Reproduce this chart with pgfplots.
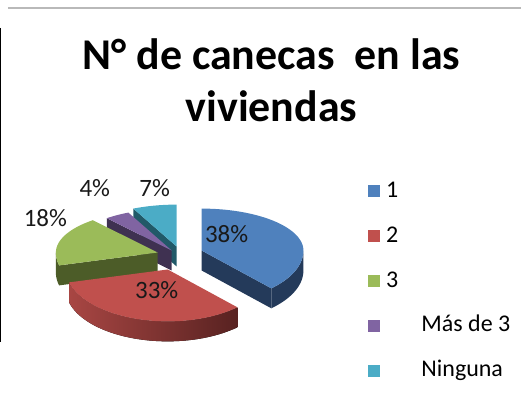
\documentclass[border=0pt]{standalone}
\usepackage{pgfplots}
\pgfplotsset{compat=1.18}
\usepackage{pgfplotstable}
\usepgfplotslibrary{fillbetween}
\usepackage{fontspec}
\setmainfont{Carlito}

\definecolor{bluetop}{RGB}{79,129,189}
\definecolor{blueside}{RGB}{36,58,90}
\definecolor{redtop}{RGB}{192,80,77}
\definecolor{redL}{RGB}{168,70,67}
\definecolor{redR}{RGB}{88,34,33}
\definecolor{greentop}{RGB}{155,187,89}
\definecolor{greenside}{RGB}{76,92,40}
\definecolor{purpletop}{RGB}{128,100,162}
\definecolor{purpleside}{RGB}{63,49,81}
\definecolor{cyantop}{RGB}{75,172,198}
\definecolor{cyanside}{RGB}{33,89,104}

\pgfplotstableread{
cat value
1 38
2 33
3 18
4 4
5 7
}\piedata

\def\Rx{102}\def\Rb{42}\def\Rf{52}\def\D{20}
\newcommand\rim[5]{%
  \pgfmathsetmacro#4{#1+\Rx*cos(#3)}%
  \pgfmathsetmacro#5{#2-(\Rb+(\Rf-\Rb)*(sin(#3)<0))*sin(#3)}}
\newcommand\lab{\fontsize{18.75}{22}\selectfont}

\begin{document}
\begin{tikzpicture}
\pgfplotstablegetelem{0}{value}\of\piedata\let\vA\pgfplotsretval
\pgfplotstablegetelem{1}{value}\of\piedata\let\vB\pgfplotsretval
\pgfplotstablegetelem{2}{value}\of\piedata\let\vC\pgfplotsretval
\pgfplotstablegetelem{3}{value}\of\piedata\let\vD\pgfplotsretval
\pgfplotstablegetelem{4}{value}\of\piedata\let\vE\pgfplotsretval
\pgfmathsetmacro\aA{90}
\pgfmathsetmacro\aB{\aA-3.6*\vA}
\pgfmathsetmacro\aC{\aB-3.6*\vB}
\pgfmathsetmacro\aD{\aC-3.6*\vC}
\pgfmathsetmacro\aE{\aD-3.6*\vD}
\pgfmathsetmacro\aF{\aE-3.6*\vE}
\rim{177}{247}{\aE}{\cx}{\cy}\pgfmathsetmacro\cyb{\cy+\D}
\rim{172}{251}{\aD}{\px}{\py}\pgfmathsetmacro\pyb{\py+\D}
\rim{158}{253}{\aC}{\gx}{\gy}\pgfmathsetmacro\gyb{\gy+\D}
\rim{202}{251}{\aB}{\bx}{\by}\pgfmathsetmacro\byb{\by+\D}
\begin{axis}[
  scale only axis, width=391.5pt, height=307.5pt,
  xmin=0, xmax=522, ymin=0, ymax=410, y dir=reverse,
  hide axis, clip=false,
  every axis plot/.append style={mark=none},
  fill between/on layer=main,
  reverse legend,
  legend cell align=left,
  legend image code/.code={\fill[#1] (0pt,-4.5pt) rectangle (9pt,4.5pt);},
  legend style={draw=none, fill=none, at={(axis cs:368,180)}, anchor=north west,
    font=\fontsize{18}{21.6}\selectfont, inner sep=0pt, row sep=16.75pt, column sep=5pt,
    nodes={inner sep=0pt, text height=13pt, text depth=4pt}},
]
\path (axis cs:0,0) rectangle (axis cs:522,410);
\draw[gray!55, line width=1.5pt] (axis cs:8,8) -- (axis cs:522,8);
\draw[black, line width=0.75pt] (axis cs:1,28) -- (axis cs:1,343);

% cyan (Ninguna)
\addplot[fill=cyanside, draw=none, forget plot] coordinates {(177,247) (\cx,\cy) (\cx,\cyb) (177,267)};
\addplot[fill=cyantop, draw=none, domain=\aF:\aE, samples=40]
  ({177+\Rx*cos(x)},{247-(\Rb+(\Rf-\Rb)*(sin(x)<0))*sin(x)}) -- (axis cs:177,247);
\addlegendentry{\hspace{26.5pt}Ninguna}
% purple (Mas de 3)
\addplot[fill=purpleside, draw=none, forget plot] coordinates {(172,251) (\px,\py) (\px,\pyb) (172,271)};
\addplot[fill=purpletop, draw=none, domain=\aE:\aD, samples=30]
  ({172+\Rx*cos(x)},{251-(\Rb+(\Rf-\Rb)*(sin(x)<0))*sin(x)}) -- (axis cs:172,251);
\addlegendentry{\hspace{26.5pt}Más de 3}
% green (3)
\addplot[fill=greenside, draw=none, forget plot] coordinates {(158,253) (\gx,\gy) (\gx,\gyb) (158,273)};
\addplot[draw=none, forget plot, name path=gt, domain=-180:\aC, samples=20]
  ({158+\Rx*cos(x)},{253-\Rf*sin(x)});
\addplot[draw=none, forget plot, name path=gb, domain=-180:\aC, samples=20]
  ({158+\Rx*cos(x)},{273-\Rf*sin(x)});
\addplot[fill=greenside, draw=none, forget plot] fill between[of=gt and gb];
\addplot[fill=greentop, draw=none, domain=\aD:\aC, samples=60]
  ({158+\Rx*cos(x)},{253-(\Rb+(\Rf-\Rb)*(sin(x)<0))*sin(x)}) -- (axis cs:158,253);
\addlegendentry{3}
% red (2)
\addplot[draw=none, forget plot, name path=rt, domain=\aC:\aB, samples=80]
  ({168+\Rx*cos(x)},{270-\Rf*sin(x)});
\addplot[draw=none, forget plot, name path=rb, domain=\aC:\aB, samples=80]
  ({168+\Rx*cos(x)},{290-\Rf*sin(x)});
\addplot[left color=redL, right color=redR, draw=none, forget plot] fill between[of=rt and rb];
\addplot[fill=redtop, draw=none, domain=\aC:\aB, samples=80]
  ({168+\Rx*cos(x)},{270-\Rf*sin(x)}) -- (axis cs:168,270);
\addlegendentry{2}
% blue (1)
\addplot[fill=blueside, draw=none, forget plot] coordinates {(202,251) (\bx,\by) (\bx,\byb) (202,271)};
\addplot[draw=none, forget plot, name path=bt, domain=\aB:0, samples=30]
  ({202+\Rx*cos(x)},{251-\Rf*sin(x)});
\addplot[draw=none, forget plot, name path=bb, domain=\aB:0, samples=30]
  ({202+\Rx*cos(x)},{271-\Rf*sin(x)});
\addplot[fill=blueside, draw=none, forget plot] fill between[of=bt and bb];
\addplot[fill=bluetop, draw=none, domain=\aB:\aA, samples=80]
  ({202+\Rx*cos(x)},{251-(\Rb+(\Rf-\Rb)*(sin(x)<0))*sin(x)}) -- (axis cs:202,251);
\addlegendentry{1}

% data labels
\node[anchor=base, font=\lab, text=black!90] at (axis cs:95,197) {4\%};
\node[anchor=base, font=\lab, text=black!90] at (axis cs:155,197) {7\%};
\node[anchor=base, font=\lab, text=black!90] at (axis cs:45.5,227) {18\%};
\node[anchor=base, font=\lab, text=black!90] at (axis cs:227,243) {38\%};
\node[anchor=base, font=\lab, text=black!90] at (axis cs:157,299) {33\%};
% title
\node[anchor=base, font=\fontsize{33}{39}\selectfont\bfseries] at (axis cs:272,70) {N° de canecas~ en las};
\node[anchor=base, font=\fontsize{33}{39}\selectfont\bfseries] at (axis cs:272,122) {viviendas};
\end{axis}
\end{tikzpicture}
\end{document}
